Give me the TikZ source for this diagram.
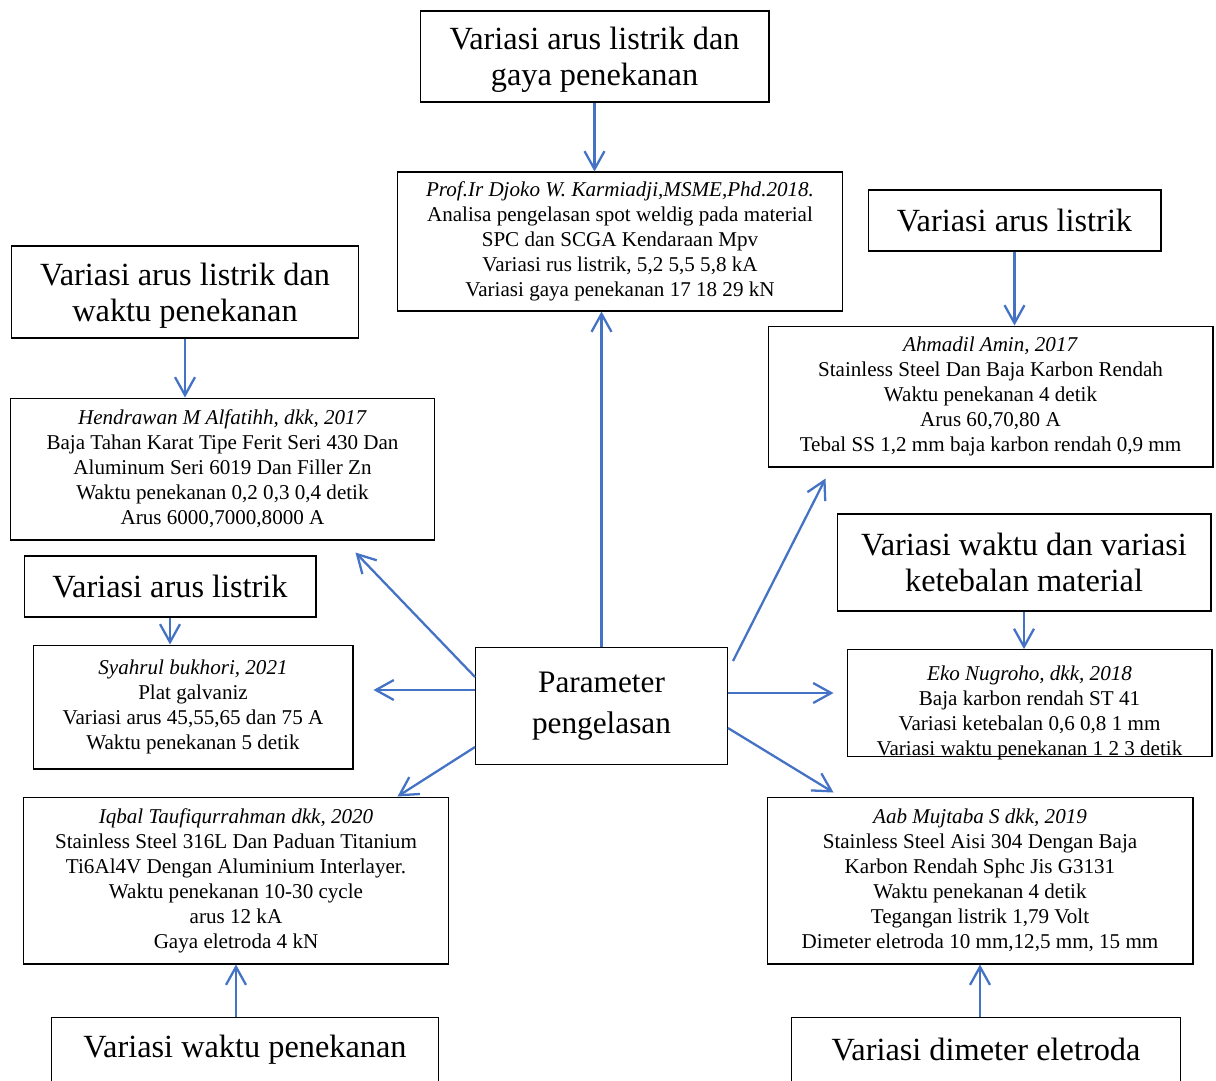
\documentclass[tikz,border=0pt]{standalone}
\usepackage{fontspec}
\setmainfont{Liberation Serif}
\usetikzlibrary{arrows.meta, positioning}
\definecolor{arrblue}{HTML}{4472C4}

\begin{document}
\begin{tikzpicture}[
  x=0.02cm, y=-0.02cm,
  >={Straight Barb[length=3.6mm, width=4mm]},
  rf/.style={rectangle, draw, line width=0.6pt, align=center, inner sep=2pt, font=\fontsize{12}{14.2}\selectfont},
  vr/.style={rectangle, draw, line width=0.6pt, align=center, inner sep=2pt, font=\fontsize{18.4}{20.5}\selectfont},
  pm/.style={rectangle, draw, line width=0.6pt, align=center, font=\fontsize{17.8}{23.3}\selectfont},
  a/.style={->, draw=arrblue, line width=1.3pt}]
\path[use as bounding box] (0,0) rectangle (1216,1080);
\clip (0,0) rectangle (1216,1080);
% centre
\node[pm, minimum width=5.04cm, minimum height=2.34cm] (par) at (601.5,706) {Parameter\\pengelasan};
% references
\node[rf, minimum width=8.92cm, minimum height=2.78cm] (p1) at (620,241.5) {\textit{Prof.Ir Djoko W. Karmiadji,MSME,Phd.2018.}\\Analisa pengelasan spot weldig pada material\\SPC dan SCGA Kendaraan Mpv\\Variasi rus listrik, 5,2 5,5 5,8 kA\\Variasi gaya penekanan 17 18 29 kN};
\node[rf, minimum width=8.9cm, minimum height=2.82cm] (p2) at (990.5,396.5) {\textit{Ahmadil Amin, 2017}\\Stainless Steel Dan Baja Karbon Rendah\\Waktu penekanan 4 detik\\Arus 60,70,80 A\\Tebal SS 1,2 mm baja karbon rendah 0,9 mm};
\node[rf, minimum width=8.5cm, minimum height=2.84cm] (p3) at (222.5,469) {\textit{Hendrawan M Alfatihh, dkk, 2017}\\Baja Tahan Karat Tipe Ferit Seri 430 Dan\\Aluminum Seri 6019 Dan Filler Zn\\Waktu penekanan 0,2 0,3 0,4 detik\\Arus 6000,7000,8000 A};
\node[rf, minimum width=6.4cm, minimum height=2.48cm] (p4) at (193,707) {\textit{Syahrul bukhori, 2021}\\Plat galvaniz\\Variasi arus 45,55,65 dan 75 A\\Waktu penekanan 5 detik};
\node[rf, minimum width=7.3cm, minimum height=2.12cm] (p5) at (1029.5,703) {\raisebox{-0.2cm}[\height][\depth]{\begin{tabular}{@{}c@{}}\textit{Eko Nugroho, dkk, 2018}\\Baja karbon rendah ST 41\\Variasi ketebalan 0,6 0,8 1 mm\\Variasi waktu penekanan 1 2 3 detik\end{tabular}}};
\node[rf, minimum width=8.52cm, minimum height=3.34cm] (p6) at (236,880.5) {\textit{Iqbal Taufiqurrahman dkk, 2020}\\Stainless Steel 316L Dan Paduan Titanium\\Ti6Al4V Dengan Aluminium Interlayer.\\Waktu penekanan 10-30 cycle\\arus 12 kA\\Gaya eletroda 4 kN};
\node[rf, minimum width=8.52cm, minimum height=3.34cm] (p7) at (980,880.5) {\textit{Aab Mujtaba S dkk, 2019}\\Stainless Steel Aisi 304 Dengan Baja\\Karbon Rendah Sphc Jis G3131\\Waktu penekanan 4 detik\\Tegangan listrik 1,79 Volt\\Dimeter eletroda 10 mm,12,5 mm, 15 mm};
% variations
\node[vr, minimum width=6.98cm, minimum height=1.82cm] (t1) at (594.5,56.5) {\raisebox{-0.08cm}[\height][\depth]{\begin{tabular}{@{}c@{}}Variasi arus listrik dan\\gaya penekanan\end{tabular}}};
\node[vr, minimum width=5.86cm, minimum height=1.22cm] (t2) at (1014.5,220.5) {Variasi arus listrik};
\node[vr, minimum width=6.96cm, minimum height=1.84cm] (t3) at (185,292) {\raisebox{-0.08cm}[\height][\depth]{\begin{tabular}{@{}c@{}}Variasi arus listrik dan\\waktu penekanan\end{tabular}}};
\node[vr, minimum width=5.84cm, minimum height=1.22cm] (t4) at (170,586.5) {Variasi arus listrik};
\node[vr, minimum width=7.48cm, minimum height=1.94cm] (t5) at (1024,562.5) {Variasi waktu dan variasi\\ketebalan material};
\node[vr, minimum width=7.76cm, minimum height=1.32cm] (t6) at (245,1050) {Variasi waktu penekanan};
\node[vr, minimum width=7.78cm, minimum height=1.32cm] (t7) at (986,1050) {Variasi dimeter eletroda};
% arrows
\draw[a] (t1.south) -- (t1.south |- p1.north);
\draw[a] (t2.south) -- (t2.south |- p2.north);
\draw[a] (t3.south) -- (t3.south |- p3.north);
\draw[a] (t4.south) -- (t4.south |- p4.north);
\draw[a] (t5.south) -- (t5.south |- p5.north);
\draw[a] (p6.south |- t6.north) -- (p6.south);
\draw[a] (p7.south |- t7.north) -- (p7.south);
\draw[a] (par.north) -- (par.north |- p1.south);
\draw[a] ([shift={(5,14)}]par.north east) -- ([shift={(58,11)}]p2.south west);
\draw[a] ([shift={(0,30)}]par.north west) -- ([shift={(-80,12)}]p3.south east);
\draw[a] ([shift={(0,-16)}]par.west) -- ([shift={(20,-17)}]p4.east);
\draw[a] ([shift={(0,-13)}]par.east) -- ([shift={(-13,-10)}]p5.west);
\draw[a] ([shift={(0,-18)}]par.south west) -- ([shift={(-52,0)}]p6.north east);
\draw[a] ([shift={(0,-37)}]par.south east) -- ([shift={(67,-4)}]p7.north west);
\end{tikzpicture}
\end{document}
